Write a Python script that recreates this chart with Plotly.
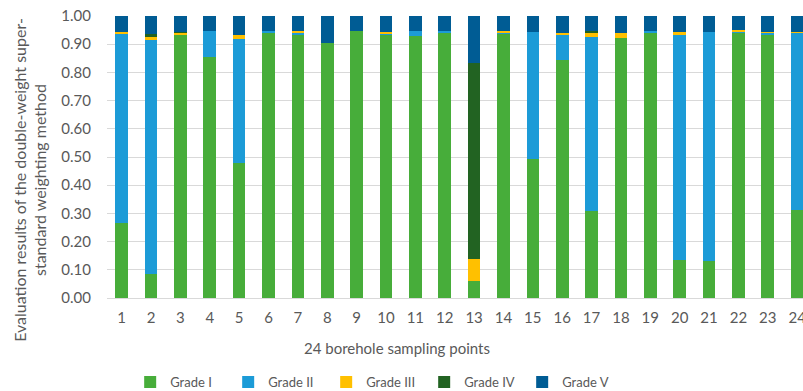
import plotly.graph_objects as go

points = list(range(1, 25))
grade_1 = [0.265, 0.085, 0.933, 0.853, 0.480, 0.940, 0.936, 0.903, 0.947, 0.933, 0.929, 0.938,
           0.060, 0.937, 0.492, 0.843, 0.308, 0.922, 0.942, 0.133, 0.130, 0.940, 0.934, 0.312]
grade_2 = [0.672, 0.832, 0.002, 0.094, 0.438, 0.006, 0.007, 0.000, 0.000, 0.006, 0.017, 0.010,
           0.000, 0.005, 0.451, 0.092, 0.619, 0.000, 0.006, 0.803, 0.815, 0.005, 0.007, 0.629]
grade_3 = [0.005, 0.007, 0.005, 0.000, 0.016, 0.000, 0.004, 0.000, 0.000, 0.003, 0.000, 0.000,
           0.080, 0.005, 0.000, 0.006, 0.014, 0.017, 0.000, 0.007, 0.000, 0.005, 0.004, 0.004]
grade_4 = [0.000, 0.013, 0.005, 0.000, 0.000, 0.000, 0.000, 0.000, 0.000, 0.000, 0.000, 0.000,
           0.693, 0.000, 0.000, 0.000, 0.005, 0.000, 0.000, 0.000, 0.000, 0.000, 0.000, 0.000]
grade_5 = [0.058, 0.063, 0.055, 0.053, 0.066, 0.054, 0.053, 0.097, 0.053, 0.058, 0.054, 0.052,
           0.167, 0.053, 0.057, 0.059, 0.054, 0.061, 0.052, 0.057, 0.055, 0.050, 0.055, 0.055]

series = [
    ("Grade I", grade_1, "#47ad3a"),
    ("Grade II", grade_2, "#1c9bd7"),
    ("Grade III", grade_3, "#ffc000"),
    ("Grade IV", grade_4, "#226322"),
    ("Grade V", grade_5, "#005c94"),
]

y_ticks = [i / 10 for i in range(11)]
y_tick_text = [f"{v:.2f}" for v in y_ticks]

FONT = "Lato"
GRAY = "#595959"

fig = go.Figure()
for name, vals, color in series:
    fig.add_trace(go.Bar(
        x=points, y=vals, name=name, width=0.43,
        marker=dict(color=color, line=dict(width=0)),
    ))

fig.update_layout(
    barmode="stack",
    width=803, height=391,
    margin=dict(l=107, r=0, t=16, b=93, autoexpand=False),
    paper_bgcolor="white", plot_bgcolor="white",
    font=dict(family=FONT, color=GRAY, size=14),
    showlegend=True,
    legend=dict(
        orientation="h", x=0.0333, xanchor="left", y=-0.298, yanchor="middle",
        font=dict(family=FONT, size=13, color=GRAY),
        entrywidth=53, entrywidthmode="pixels", traceorder="normal",
        itemwidth=30, itemclick=False,
    ),
    xaxis=dict(
        range=[0.5, 24.2], tickmode="array", tickvals=points,
        ticktext=[str(p) for p in points],
        showgrid=False, zeroline=False, showline=False, ticks="",
        ticklabelstandoff=9, ticklabeloverflow="allow",
        tickfont=dict(size=15, color=GRAY),
    ),
    yaxis=dict(
        range=[0, 1.0], tickmode="array", tickvals=y_ticks, ticktext=y_tick_text,
        showgrid=True, gridcolor="#d9d9d9", gridwidth=1,
        zeroline=True, zerolinecolor="#d9d9d9", zerolinewidth=1,
        showline=False, ticks="", ticklabelstandoff=15, ticklabeloverflow="allow",
        tickfont=dict(size=15, color=GRAY),
    ),
)

fig.add_annotation(
    text="Evaluation results of the double-weight super-<br>standard weighting method",
    xref="paper", yref="paper", x=-0.111, y=0.418, xanchor="center", yanchor="middle",
    textangle=-90, showarrow=False, font=dict(family=FONT, size=16, color=GRAY),
)

fig.add_annotation(
    text="24 borehole sampling points",
    xref="paper", yref="paper", x=0.417, y=-0.177, xanchor="center", yanchor="middle",
    showarrow=False, font=dict(family=FONT, size=15, color=GRAY),
)

fig.write_html(
    "out.html",
    config={"displayModeBar": False},
    post_script="document.body.style.margin='0';document.body.style.overflow='hidden';",
)
